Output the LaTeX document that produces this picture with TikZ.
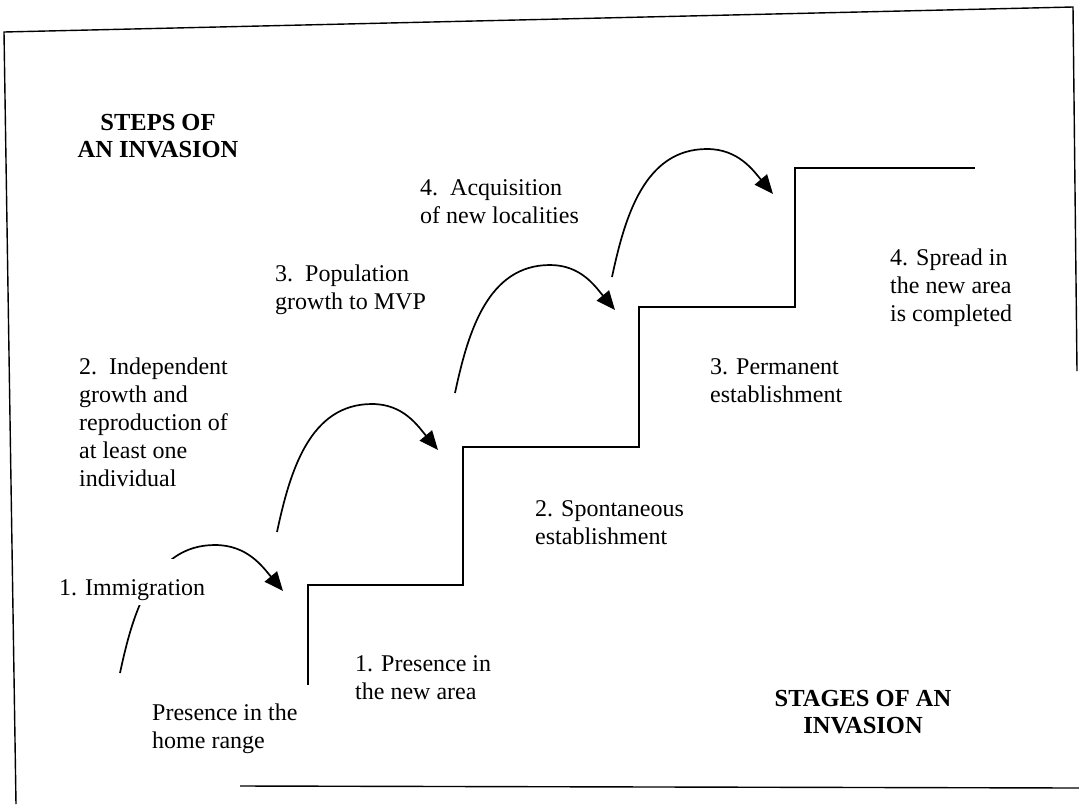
\documentclass[tikz,border=0pt]{standalone}
\usepackage{fontspec}
\setmainfont{Liberation Serif}
\usetikzlibrary{arrows.meta}
\begin{document}
\begin{tikzpicture}[x=1pt,y=1pt,
  lbl/.style={anchor=north west, inner sep=0pt, align=left, font=\fontsize{24}{28}\selectfont},
  ttl/.style={anchor=north, inner sep=0pt, align=center, font=\fontsize{24.5}{27}\selectfont\bfseries},
  jump/.style={line width=1.7pt, -{Triangle[length=19pt,width=16pt]}},
  stair/.style={line width=1.8pt},
  frm/.style={line width=1.4pt}]
\useasboundingbox (0,0) rectangle (1079,-804);
% frame
\draw[frm] (16,-804) -- (4,-32) -- (1073,-7) -- (1077,-371);
\draw[frm] (240,-786) -- (1079,-788);
% staircase
\draw[stair] (308,-685) -- (308,-585) -- (463,-585) -- (463,-447) -- (639,-447)
  -- (639,-307) -- (795,-307) -- (795,-168) -- (975,-168);
% arcs
\coordinate (s1) at (120,-673); \coordinate (t1) at (215,-545); \coordinate (e1) at (283,-591);
\coordinate (s2) at (277,-532); \coordinate (t2) at (372,-404); \coordinate (e2) at (438,-450);
\coordinate (s3) at (455,-393); \coordinate (t3) at (550,-265); \coordinate (e3) at (615,-310);
\coordinate (s4) at (612,-277); \coordinate (t4) at (707,-149); \coordinate (e4) at (773,-194);
\draw[jump] (s1) to[out=78,in=180] (t1) to[out=0,in=130] (e1);
\draw[jump] (s2) to[out=78,in=180] (t2) to[out=0,in=130] (e2);
\draw[jump] (s3) to[out=78,in=180] (t3) to[out=0,in=130] (e3);
\draw[jump] (s4) to[out=78,in=180] (t4) to[out=0,in=130] (e4);
% titles
\node[ttl] (steps) at (158,-114.5) {STEPS OF\\AN INVASION};
\node[ttl] (stages) at (863,-690) {STAGES OF AN\\INVASION};
% step labels
\node[lbl] (st4) at (420,-179.6) {4.\ \ Acquisition\\of new localities};
\node[lbl] (st3) at (275,-264.6) {3.\ \ Population\\growth to MVP};
\node[lbl] (st2) at (79,-357.6) {2.\ \ Independent\\growth and\\reproduction of\\at least one\\individual};
\node[anchor=base west, inner xsep=2pt, inner ysep=0pt, fill=white, text height=36pt, text depth=10pt,
      font=\fontsize{24}{28}\selectfont] (st1) at (57,-595) {1. Immigration};
% stage labels
\node[lbl] (sg0) at (152,-703.6) {Presence in the\\home range};
\node[lbl] (sg1) at (355,-655.6) {1. Presence in\\the new area};
\node[lbl] (sg2) at (535,-500.6) {2. Spontaneous\\establishment};
\node[lbl] (sg3) at (710,-358.6) {3. Permanent\\establishment};
\node[lbl] (sg4) at (890,-248.6) {4. Spread in\\the new area\\is completed};
\end{tikzpicture}
\end{document}
